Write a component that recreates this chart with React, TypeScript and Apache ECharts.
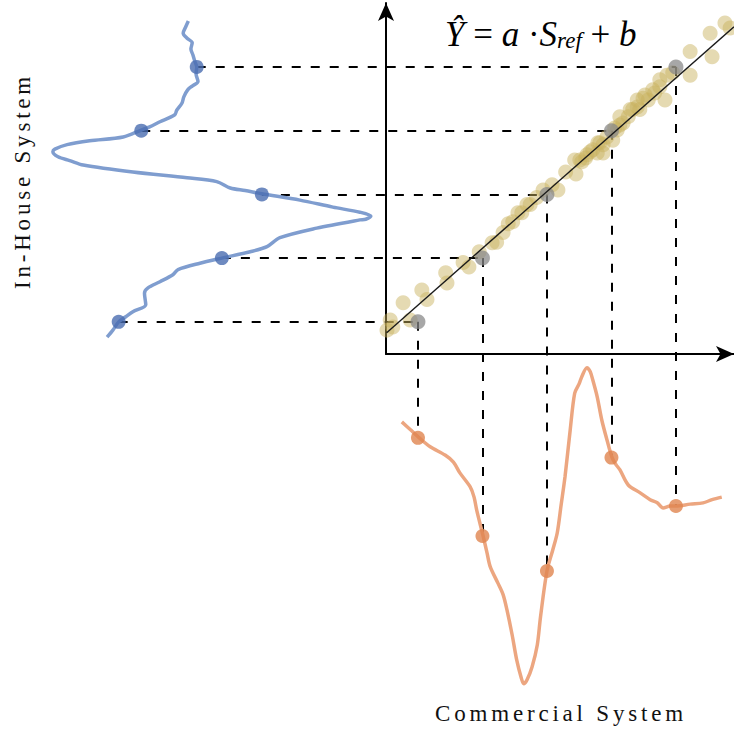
import React, { useEffect, useRef } from 'react';
import * as echarts from 'echarts';

// Reference levels: grey points sit at (level, level)
const levels = [1, 2, 3, 4, 5];
// Blue (In-House) dots: x position on the blue trace for each level
const blueDotX = [-3.64, -2.04, -1.42, -3.29, -2.43];
// Orange (Commercial) dots: y position on the orange trace for each level
const orangeDotY = [-0.82, -2.36, -2.91, -1.13, -1.89];

// Fitted regression line end points  (Y = a*S_ref + b)
const fitLine: [number, number][] = [
  [0.515, 0.83],
  [5.9, 5.63],
];

// Paired measurements (commercial, in-house)
const scatterPoints: [number, number][] = [
  [0.52, 0.87], [0.57, 1.03], [0.61, 0.92], [0.77, 1.3], [0.88, 1.03],
  [1.06, 1.5], [1.14, 1.35], [1.43, 1.77], [1.45, 1.61], [1.7, 1.93],
  [1.79, 1.86], [1.95, 2.1], [2.15, 2.24], [2.22, 2.25], [2.32, 2.4],
  [2.4, 2.54], [2.47, 2.57], [2.55, 2.71], [2.61, 2.71], [2.69, 2.84],
  [2.74, 2.84], [2.84, 2.95], [2.94, 3.07], [3.08, 3.15], [3.17, 3.07],
  [3.29, 3.35], [3.45, 3.32], [3.43, 3.54], [3.51, 3.54], [3.54, 3.51],
  [3.6, 3.57], [3.62, 3.62], [3.67, 3.67], [3.71, 3.7], [3.78, 3.65],
  [3.79, 3.81], [3.82, 3.81], [3.87, 3.65], [3.87, 3.78], [3.93, 3.9],
  [4.02, 3.85], [4.05, 4.04], [4.09, 4.01], [4.13, 4.09], [4.13, 4.22],
  [4.18, 4.12], [4.26, 4.22], [4.29, 4.33], [4.33, 4.33], [4.4, 4.37],
  [4.44, 4.33], [4.4, 4.48], [4.49, 4.51], [4.52, 4.56], [4.57, 4.48],
  [4.64, 4.64], [4.67, 4.59], [4.75, 4.69], [4.75, 4.8], [4.83, 4.48],
  [4.86, 4.87], [4.95, 4.91], [5.22, 4.87], [5.22, 5.24], [5.56, 5.16],
  [5.53, 5.53], [5.76, 5.69], [5.84, 5.61],
];

// In-House trace (drawn vertically on the left)
const blueCurve: [number, number][] = [
  [-2.56, 5.72], [-2.6, 5.63], [-2.64, 5.53], [-2.58, 5.45], [-2.5, 5.38],
  [-2.52, 5.28], [-2.49, 5.19], [-2.46, 5.09], [-2.43, 5.0], [-2.44, 4.89],
  [-2.41, 4.77], [-2.5, 4.7], [-2.57, 4.64], [-2.63, 4.53], [-2.66, 4.43],
  [-2.74, 4.32], [-2.77, 4.25], [-3.0, 4.14], [-3.16, 4.06], [-3.29, 4.01],
  [-3.57, 3.9], [-4.09, 3.84], [-4.44, 3.78], [-4.63, 3.71], [-4.66, 3.67],
  [-4.58, 3.59], [-4.4, 3.53], [-4.19, 3.46], [-3.42, 3.35], [-2.58, 3.26],
  [-2.12, 3.2], [-1.91, 3.1], [-1.68, 3.06], [-1.42, 3.01], [-0.83, 2.91],
  [-0.32, 2.8], [0.1, 2.72], [0.27, 2.66], [0.19, 2.61], [0.1, 2.6],
  [-0.57, 2.47], [-1.14, 2.32], [-1.34, 2.18], [-1.6, 2.1], [-2.04, 2.0],
  [-2.38, 1.92], [-2.72, 1.82], [-2.8, 1.74], [-3.0, 1.63], [-3.19, 1.53],
  [-3.24, 1.45], [-3.22, 1.27], [-3.42, 1.16], [-3.53, 1.08], [-3.64, 1.0],
  [-3.73, 0.87], [-3.82, 0.76],
];

// Commercial trace (drawn horizontally below)
const orangeCurve: [number, number][] = [
  [0.75, -0.57], [0.88, -0.69], [1.02, -0.82], [1.19, -0.96], [1.42, -1.09],
  [1.55, -1.2], [1.65, -1.37], [1.81, -1.59], [1.87, -1.75], [1.91, -1.95],
  [2.01, -2.36], [2.07, -2.62], [2.12, -2.84], [2.24, -3.1], [2.32, -3.28],
  [2.38, -3.52], [2.46, -3.91], [2.53, -4.3], [2.6, -4.58], [2.64, -4.68],
  [2.69, -4.62], [2.77, -4.41], [2.85, -4.07], [2.9, -3.63], [3.0, -2.91],
  [3.09, -2.58], [3.16, -2.31], [3.22, -1.87], [3.28, -1.43], [3.36, -0.7],
  [3.43, -0.12], [3.5, 0.03], [3.54, 0.14], [3.62, 0.28], [3.67, 0.22],
  [3.71, 0.09], [3.78, -0.18], [3.85, -0.54], [3.93, -0.85], [4.01, -1.13],
  [4.07, -1.24], [4.13, -1.32], [4.26, -1.56], [4.44, -1.68], [4.6, -1.79],
  [4.71, -1.84], [4.8, -1.92], [4.91, -1.89], [5.0, -1.89], [5.22, -1.86],
  [5.42, -1.84], [5.56, -1.79], [5.71, -1.75],
];

const xLabel = 'Commercial System';
const yLabel = 'In-House System';

const X_MIN = -5.48;
const X_MAX = 5.9;
const Y_MIN = -5.42;
const Y_MAX = 6.05;

const SERIF = '"Liberation Serif", "Times New Roman", serif';

export default function App() {
  const ref = useRef<HTMLDivElement>(null);

  useEffect(() => {
    if (!ref.current) return;
    const chart = echarts.init(ref.current, null, { renderer: 'svg' });

    const dashed = [
      ...levels.map((k, i) => ({ coords: [[blueDotX[i], k], [k, k]] })),
      ...levels.map((k, i) => ({ coords: [[k, k], [k, orangeDotY[i]]] })),
    ];

    const hiddenAxis = { show: false };
    const arrowLine = {
      show: true,
      onZero: false,
      symbol: ['none', 'arrow'],
      symbolSize: [12, 18],
      lineStyle: { color: '#000', width: 2 },
    };

    const option: any = {
      animation: false,
      backgroundColor: '#fff',
      grid: [
        { left: 0, right: 0, top: 0, bottom: 0 },
        { left: 386, right: 0, top: 3, bottom: 377 },
      ],
      xAxis: [
        { gridIndex: 0, type: 'value', min: X_MIN, max: X_MAX, ...hiddenAxis },
        {
          gridIndex: 1, type: 'value', min: 0.5, max: 5.9,
          axisLine: arrowLine, axisTick: { show: false }, axisLabel: { show: false }, splitLine: { show: false },
        },
      ],
      yAxis: [
        { gridIndex: 0, type: 'value', min: Y_MIN, max: Y_MAX, ...hiddenAxis },
        {
          gridIndex: 1, type: 'value', min: 0.5, max: 6.0,
          axisLine: arrowLine, axisTick: { show: false }, axisLabel: { show: false }, splitLine: { show: false },
        },
      ],
      series: [
        {
          type: 'lines', coordinateSystem: 'cartesian2d', xAxisIndex: 0, yAxisIndex: 0,
          data: dashed, symbol: 'none', silent: true, z: 1,
          lineStyle: { color: '#000', width: 2, type: [9, 10], opacity: 1, curveness: 0 },
        },
        {
          type: 'line', xAxisIndex: 0, yAxisIndex: 0, data: blueCurve, showSymbol: false,
          smooth: 0.3, lineStyle: { color: '#7f9dcf', width: 3.5 }, z: 2, silent: true,
        },
        {
          type: 'line', xAxisIndex: 0, yAxisIndex: 0, data: orangeCurve, showSymbol: false,
          smooth: 0.3, lineStyle: { color: '#eca680', width: 3.5 }, z: 2, silent: true,
        },
        {
          type: 'scatter', xAxisIndex: 0, yAxisIndex: 0, data: scatterPoints, symbolSize: 15,
          itemStyle: { color: 'rgba(200,178,95,0.6)' }, z: 3, silent: true,
        },
        {
          type: 'scatter', xAxisIndex: 0, yAxisIndex: 0, data: levels.map((k) => [k, k]), symbolSize: 15,
          itemStyle: { color: 'rgba(135,135,135,0.92)' }, z: 4, silent: true,
        },
        {
          type: 'line', xAxisIndex: 0, yAxisIndex: 0, data: fitLine, showSymbol: false,
          lineStyle: { color: '#1a1a1a', width: 1.4 }, z: 5, silent: true,
        },
        {
          type: 'scatter', xAxisIndex: 0, yAxisIndex: 0, data: levels.map((k, i) => [blueDotX[i], k]),
          symbolSize: 14, itemStyle: { color: '#4a6db0' }, z: 6, silent: true,
        },
        {
          type: 'scatter', xAxisIndex: 0, yAxisIndex: 0, data: levels.map((k, i) => [k, orangeDotY[i]]),
          symbolSize: 14, itemStyle: { color: '#e0844f' }, z: 6, silent: true,
        },
      ],
      graphic: [
        {
          type: 'text', x: 561, y: 713, z: 10,
          style: {
            text: xLabel, fill: '#111', font: `23px ${SERIF}`, fontSize: 23, fontFamily: SERIF,
            textAlign: 'center', align: 'center', textVerticalAlign: 'middle', verticalAlign: 'middle',
          },
        },
        {
          type: 'text', x: 22, y: 181, rotation: Math.PI / 2, z: 10,
          style: {
            text: yLabel, fill: '#111', font: `23px ${SERIF}`, fontSize: 23, fontFamily: SERIF,
            textAlign: 'center', align: 'center', textVerticalAlign: 'middle', verticalAlign: 'middle',
          },
        },
        {
          type: 'text', x: 445, y: 31, z: 10,
          style: {
            text: '{i|Ŷ}{n| = }{i|a}{n| ·}{i|S}{s|ref}{n| + }{i|b}',
            fill: '#000', font: `35px ${SERIF}`, fontSize: 35, fontFamily: SERIF,
            textAlign: 'left', align: 'left', textVerticalAlign: 'middle', verticalAlign: 'middle',
            rich: {
              i: { fontSize: 35, fontFamily: SERIF, fontStyle: 'italic', fill: '#000', lineHeight: 42, verticalAlign: 'bottom' },
              n: { fontSize: 35, fontFamily: SERIF, fill: '#000', lineHeight: 42, verticalAlign: 'bottom' },
              s: { fontSize: 23, fontFamily: SERIF, fontStyle: 'italic', fill: '#000', lineHeight: 20, verticalAlign: 'bottom' },
            },
          },
        },
      ],
    };

    chart.setOption(option);

    const spaceOut = () => {
      const root = ref.current;
      if (!root) return;
      root.querySelectorAll('text').forEach((t) => {
        const s = t.textContent || '';
        if (s === xLabel || s === yLabel) t.setAttribute('letter-spacing', '3.8');
      });
    };
    spaceOut();
    chart.on('finished', spaceOut);
    const timer = setTimeout(spaceOut, 50);

    return () => {
      clearTimeout(timer);
      chart.dispose();
    };
  }, []);

  return (
    <div
      ref={ref}
      style={{ position: 'fixed', left: 0, top: 0, width: 734, height: 731, background: '#fff' }}
    />
  );
}
